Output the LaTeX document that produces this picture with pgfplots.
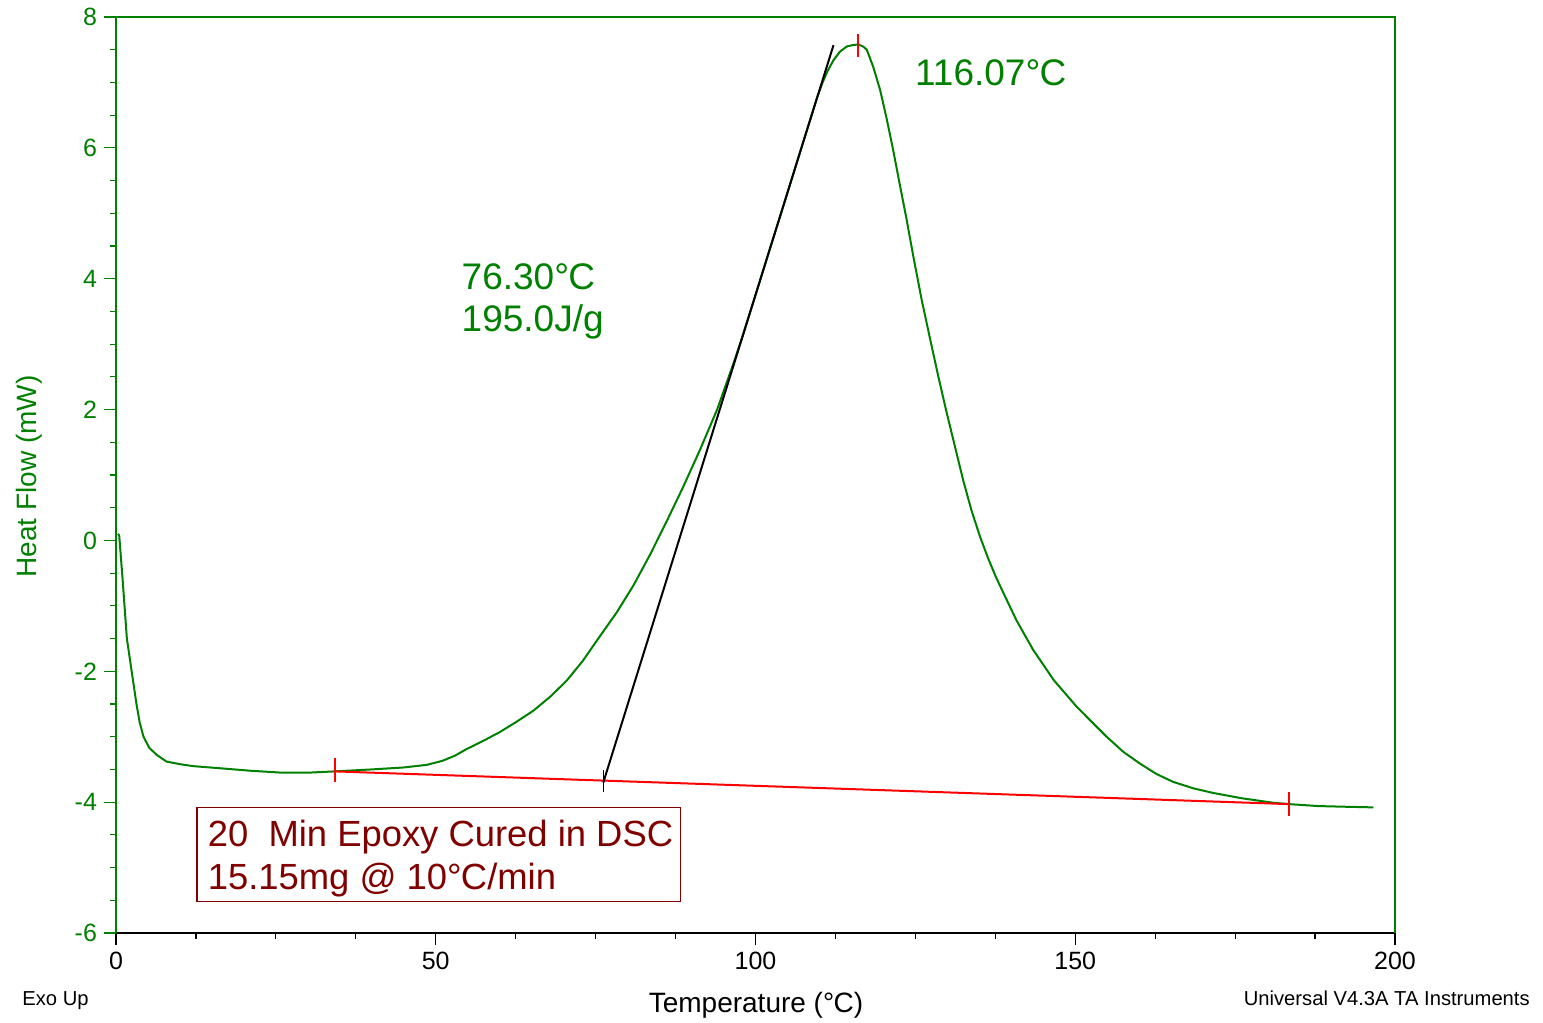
\documentclass[border=0pt]{standalone}
\usepackage{fontspec}
\setmainfont{Liberation Sans}
\usepackage{pgfplots}
\pgfplotsset{compat=1.18}
\definecolor{hfgreen}{RGB}{0,128,0}
\definecolor{boxred}{RGB}{128,0,0}
\newcommand{\dC}{°\kern-0.02em C}
\begin{document}
\begin{tikzpicture}
\path[use as bounding box] (0,0) rectangle (771.5pt,511.5pt);
\begin{axis}[
  name=ax,
  at={(58pt,45pt)}, anchor=south west,
  scale only axis, width=639.5pt, height=458pt,
  xmin=0, xmax=200, ymin=-6, ymax=8,
  axis lines*=left,
  clip=false,
  xtick={0,50,...,200}, ytick={-6,-4,...,8},
  minor tick num=3,
  tick align=outside,
  major tick length=6pt, minor tick length=3pt,
  x axis line style={black, line width=0.75pt},
  y axis line style={hfgreen, line width=0.75pt},
  every x tick/.style={black, line width=0.6pt},
  every y tick/.style={hfgreen, line width=0.6pt},
  /pgf/number format/assume math mode=true,
  ticklabel style={font=\fontsize{12.5}{15}\selectfont},
  y tick label style={text=hfgreen},
  x tick label style={text=black},
]
% DSC curve
\addplot[hfgreen, line width=1pt, line join=round] coordinates {
(0.3,0.10) (0.5,0.08) (0.8,-0.30) (1.0,-0.55) (1.7,-1.50) (2.45,-2.00)
(3.2,-2.50) (3.7,-2.78) (4.3,-3.00) (5.2,-3.17) (6.4,-3.28) (7.9,-3.38) (10,-3.42)
(12.1,-3.45) (16,-3.48) (21,-3.52) (26,-3.55) (30,-3.55) (34.2,-3.53)
(40,-3.50) (45,-3.47) (48.6,-3.43) (51,-3.37) (53,-3.29) (54.8,-3.19) (57.5,-3.06)
(60,-2.93) (62.5,-2.78) (65.3,-2.60) (68,-2.38) (70.5,-2.14) (73,-1.84)
(75.7,-1.46) (78.3,-1.10) (80.9,-0.69) (83.5,-0.22) (86.1,0.29) (88.7,0.82)
(91.3,1.38) (94,2.00) (96.5,2.69) (98,3.13) (100,3.75) (102,4.38) (104,5.00)
(106,5.63) (108,6.26) (109.6,6.76) (110.5,7.00) (111.3,7.18) (112.2,7.34) (113.2,7.47)
(114.3,7.55) (115.2,7.57) (116.07,7.58) (116.8,7.55) (117.4,7.50) (118.4,7.24)
(119.5,6.88) (120.5,6.45) (121.5,5.98) (122.6,5.42) (123.6,4.92)
(124.7,4.33) (126.0,3.67) (127.3,3.08) (128.6,2.50) (129.9,1.95) (131.2,1.43)
(132.5,0.91) (133.8,0.45) (135.1,0.06)
(136.4,-0.28) (137.6,-0.56) (138.8,-0.81) (140.8,-1.22) (143.4,-1.67) (146.6,-2.13)
(150.2,-2.54) (154.9,-3.00) (157.5,-3.23) (160.1,-3.41) (162.7,-3.57) (165.3,-3.69) (168.5,-3.79) (171.6,-3.86)
(176,-3.94) (181,-4.01) (183.4,-4.03) (188,-4.06) (192,-4.07) (196.6,-4.08)
};
% baseline
\addplot[red, line width=1pt] coordinates {(34.2,-3.53) (183.4,-4.03)};
% tangent
\addplot[black, line width=1pt] coordinates {(76.2,-3.70) (112.2,7.57)};
% markers
\addplot[red, line width=0.8pt] coordinates {(34.2,-3.33) (34.2,-3.69)};
\addplot[red, line width=0.8pt] coordinates {(183.4,-3.85) (183.4,-4.21)};
\addplot[red, line width=0.8pt] coordinates {(116.07,7.74) (116.07,7.39)};
\addplot[black, line width=0.8pt] coordinates {(76.2,-3.51) (76.2,-3.85)};
% annotations
\node[anchor=base west, inner sep=0pt, text=hfgreen, font=\fontsize{18.5}{21}\selectfont]
  at (axis cs:124.9,6.96) {116.07\dC};
\node[anchor=base west, inner sep=0pt, text=hfgreen, font=\fontsize{18.5}{21}\selectfont]
  at (axis cs:54.0,3.84) {76.30\dC};
\node[anchor=base west, inner sep=0pt, text=hfgreen, font=\fontsize{18.5}{21}\selectfont]
  at (axis cs:54.0,3.19) {195.0J/g};
\draw[boxred, line width=0.75pt] (axis cs:12.7,-4.08) rectangle (axis cs:88.3,-5.52);
\node[anchor=base west, inner sep=0pt, text=boxred, font=\fontsize{18.2}{21.65}\selectfont]
  at (axis cs:14.3,-4.68) {20\ \ Min Epoxy Cured in DSC};
\node[anchor=base west, inner sep=0pt, text=boxred, font=\fontsize{18.2}{21.65}\selectfont]
  at (axis cs:14.3,-5.34) {15.15mg @ 10\dC/min};
\end{axis}
\draw[hfgreen, line width=0.75pt] (ax.north west) -- (ax.north east) -- (ax.south east);
\node[anchor=base, inner sep=0pt, font=\fontsize{14}{16}\selectfont] at (378pt,5pt) {Temperature (\dC)};
\node[anchor=base, inner sep=0pt, rotate=90, text=hfgreen, font=\fontsize{14}{16}\selectfont] at (18.3pt,273.2pt) {Heat Flow (mW)};
\node[anchor=base west, inner sep=0pt, font=\fontsize{10.1}{12}\selectfont] at (11pt,8.5pt) {Exo Up};
\node[anchor=base west, inner sep=0pt, font=\fontsize{10.1}{12}\selectfont] at (621.7pt,8.5pt) {Universal V4.3A TA Instruments};
\end{tikzpicture}
\end{document}
